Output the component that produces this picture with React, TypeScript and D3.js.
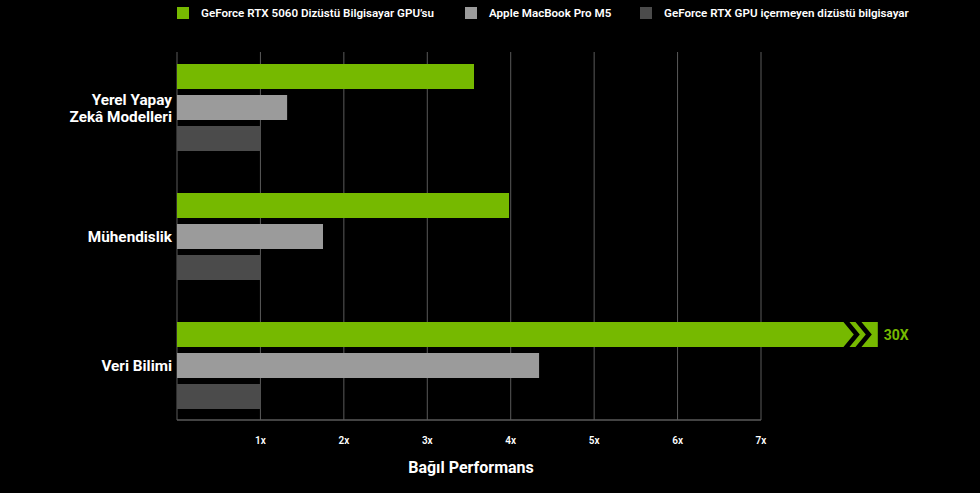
import * as React from 'react';
import * as d3 from 'd3';

const categories = [['Yerel Yapay', 'Zekâ Modelleri'], ['Mühendislik'], ['Veri Bilimi']];
const seriesNames = [
  'GeForce RTX 5060 Dizüstü Bilgisayar GPU\u2019su',
  'Apple MacBook Pro M5',
  'GeForce RTX GPU içermeyen dizüstü bilgisayar',
];
const rtx5060 = [3.56, 3.98, 30];
const macbookM5 = [1.32, 1.75, 4.34];
const noRtx = [1, 1, 1];
const tickValues = [1, 2, 3, 4, 5, 6, 7];
const tickLabels = ['1x', '2x', '3x', '4x', '5x', '6x', '7x'];
// bars above the axis max get cut here and get a break mark + label
const breakAt = 8.4;
const axisTitle = 'Bağıl Performans';

const colors = ['#76b900', '#9b9b9b', '#4b4b4b'];
const FONT = 'Roboto, "DejaVu Sans", sans-serif';

export default function App() {
  const width = 980;
  const height = 493;
  const series = [rtx5060, macbookM5, noRtx];

  const x = d3.scaleLinear().domain([0, 7]).range([177, 761]);
  const y0 = d3
    .scaleBand<number>()
    .domain(d3.range(categories.length))
    .range([64, 409])
    .paddingInner(42 / 129);
  const y1 = d3
    .scaleBand<number>()
    .domain(d3.range(series.length))
    .range([0, y0.bandwidth()])
    .paddingInner(6 / 31);

  const top = 52;
  const bottom = 420;

  return (
    <svg width={width} height={height} style={{ display: 'block', position: 'absolute', left: 0, top: 0, background: '#000' }}>
      <rect width={width} height={height} fill="#000" />

      {/* legend */}
      {[177, 465, 640].map((lx, i) => (
        <g key={i} transform={translate(lx, 7)}>
          <rect width={12} height={12} fill={colors[i]} />
          <text x={24} y={10} fill="#fff" fontFamily={FONT} fontWeight={600} fontSize={11.6}>
            {seriesNames[i]}
          </text>
        </g>
      ))}

      {/* grid */}
      <line x1={x(0)} x2={x(0)} y1={top} y2={bottom} stroke="#5a5a5a" strokeWidth={1} />
      {tickValues.map((t) => (
        <line key={t} x1={x(t)} x2={x(t)} y1={top} y2={bottom} stroke="#5a5a5a" strokeWidth={1} />
      ))}
      <line x1={x(0)} x2={x(7)} y1={bottom} y2={bottom} stroke="#5a5a5a" strokeWidth={1.5} />

      {/* bars */}
      {categories.map((cat, ci) => (
        <g key={ci} transform={translate(0, y0(ci)!)}>
          {series.map((s, si) => {
            const v = s[ci];
            const broken = v > breakAt;
            const xe = x(Math.min(v, breakAt));
            const by = y1(si)!;
            const bh = y1.bandwidth();
            return (
              <g key={si}>
                <rect x={x(0)} y={by} width={xe - x(0)} height={bh} fill={colors[si]} />
                {broken && (
                  <g>
                    {[0, 12].map((dx) => {
                      const cx = xe - 36 + dx;
                      const t = by - 2;
                      const b = by + bh + 2;
                      const m = by + bh / 2;
                      return (
                        <polygon
                          key={dx}
                          points={`${cx},${t} ${cx + 6},${t} ${cx + 18},${m} ${cx + 6},${b} ${cx},${b} ${cx + 12},${m}`}
                          fill="#000"
                        />
                      );
                    })}
                    <text x={xe + 6} y={by + bh / 2 + 5} fill={colors[0]} fontFamily={FONT} fontWeight={700} fontSize={14}>
                      {`${v}X`}
                    </text>
                  </g>
                )}
              </g>
            );
          })}
          <text
            x={172}
            y={y0.bandwidth() / 2 + 5.5 - ((cat.length - 1) * 17) / 2}
            textAnchor="end"
            fill="#fff"
            fontFamily={FONT}
            fontWeight={700}
            fontSize={15.3}
          >
            {cat.map((line, li) => (
              <tspan key={li} x={172} dy={li === 0 ? 0 : 17}>
                {line}
              </tspan>
            ))}
          </text>
        </g>
      ))}

      {/* x tick labels */}
      {tickValues.map((t, i) => (
        <text key={t} x={x(t)} y={444} textAnchor="middle" fill="#fff" fontFamily={FONT} fontWeight={600} fontSize={10}>
          {tickLabels[i]}
        </text>
      ))}
      <text x={471} y={473} textAnchor="middle" fill="#fff" fontFamily={FONT} fontWeight={700} fontSize={16}>
        {axisTitle}
      </text>
    </svg>
  );
}

function translate(x: number, y: number) {
  return `translate(${x}, ${y})`;
}
